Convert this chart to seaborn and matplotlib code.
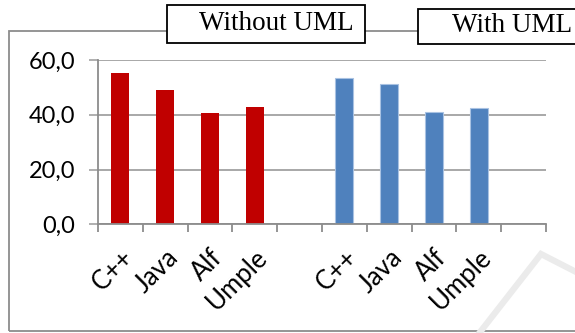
import matplotlib
matplotlib.use("Agg")
import matplotlib.pyplot as plt
from matplotlib.patches import Rectangle
from matplotlib.lines import Line2D
import seaborn as sns
import pandas as pd

# ---- data ----
languages = ["C++", "Java", "Alf", "Umple"]
groups = ["Without UML", "With UML"]
without_uml = [55.4, 49.1, 40.7, 42.9]
with_uml = [53.4, 51.1, 41.1, 42.5]
y_ticks = [0, 20, 40, 60]
y_tick_labels = ["0,0", "20,0", "40,0", "60,0"]

# slots: 4 bars, gap, 4 bars, gap
slots = [f"w/o {l}" for l in languages] + ["gap1"] + [f"w {l}" for l in languages] + ["gap2"]
slot_labels = languages + [""] + languages + [""]

df = pd.DataFrame({
    "slot": [f"w/o {l}" for l in languages] + [f"w {l}" for l in languages],
    "value": without_uml + with_uml,
    "group": [groups[0]] * 4 + [groups[1]] * 4,
})

sns.set_theme(style="white")
plt.rcParams["font.family"] = ["Lato", "DejaVu Sans"]

W, H = 575, 333
fig = plt.figure(figsize=(W / 100, H / 100), dpi=100)

def fx(x):
    return x / W

def fy(y):
    return 1 - y / H

# outer frame
fig.add_artist(Rectangle((fx(8.5), fy(331)), fx(580) - fx(8.5), fy(31) - fy(331),
                         transform=fig.transFigure, fill=False, edgecolor="#8c8c8c",
                         lw=1.3, zorder=0))
# watermark stroke
fig.add_artist(Line2D([fx(477), fx(541), fx(580)], [fy(336), fy(254), fy(274)],
                      transform=fig.transFigure, color="#ebebeb", lw=4.5,
                      solid_joinstyle="miter", zorder=0))

ax = fig.add_axes([fx(98), fy(224.3), fx(546) - fx(98), fy(60) - fy(224.3)])
ax.patch.set_alpha(0)

sns.barplot(data=df, x="slot", y="value", hue="group", order=slots,
            hue_order=groups, palette={"Without UML": "#C00000", "With UML": "#4F81BD"},
            dodge=False, width=0.4, legend=False, ax=ax, saturation=1, zorder=3)

for p in ax.patches:
    fc = p.get_facecolor()
    if fc[2] > 0.5:
        p.set_edgecolor("#a9c2e2")
        p.set_linewidth(0.8)
    else:
        p.set_linewidth(0)

ax.set_xlim(-0.5, 9.5)
ax.set_ylim(0, 60)
ax.set_xlabel("")
ax.set_ylabel("")

ax.set_yticks(y_ticks)
ax.set_yticklabels(y_tick_labels, fontsize=17)
ax.yaxis.grid(True, color="#9a9a9a", lw=1.2, zorder=0)
ax.tick_params(axis="y", which="major", length=6.5, width=1.1, color="#9a9a9a",
               pad=10, left=True, labelcolor="black")

# boundary ticks (major) and labels (minor)
ax.set_xticks([i - 0.5 for i in range(11)])
ax.set_xticklabels([""] * 11)
ax.set_xticks(list(range(10)), minor=True)
ax.set_xticklabels(slot_labels, minor=True, rotation=45, ha="right", va="top",
                   rotation_mode="anchor", fontsize=18.5)
ax.tick_params(axis="x", which="major", length=6, width=1.3, color="#8c8c8c",
               bottom=True, direction="out")
ax.tick_params(axis="x", which="minor", length=0, pad=15, labelcolor="black")

for s in ["top", "right"]:
    ax.spines[s].set_visible(False)
for s in ["left", "bottom"]:
    ax.spines[s].set_color("#8c8c8c")
    ax.spines[s].set_linewidth(1.3)
    ax.spines[s].set_zorder(4)

# legend-like boxes
def label_box(x0, y0, x1, y1, text, tx):
    fig.add_artist(Rectangle((fx(x0), fy(y1)), fx(x1) - fx(x0), fy(y0) - fy(y1),
                             transform=fig.transFigure, facecolor="white",
                             edgecolor="black", lw=1.3, zorder=5))
    fig.text(fx(tx), fy((y0 + y1) / 2 - 1), text, family=["Liberation Serif"],
             fontsize=19.5, ha="left", va="center", color="black", zorder=6)

label_box(167, 5, 365, 43, groups[0], 199)
label_box(418, 8.5, 580, 44, groups[1], 452)

fig.savefig("out.png", dpi=100)
